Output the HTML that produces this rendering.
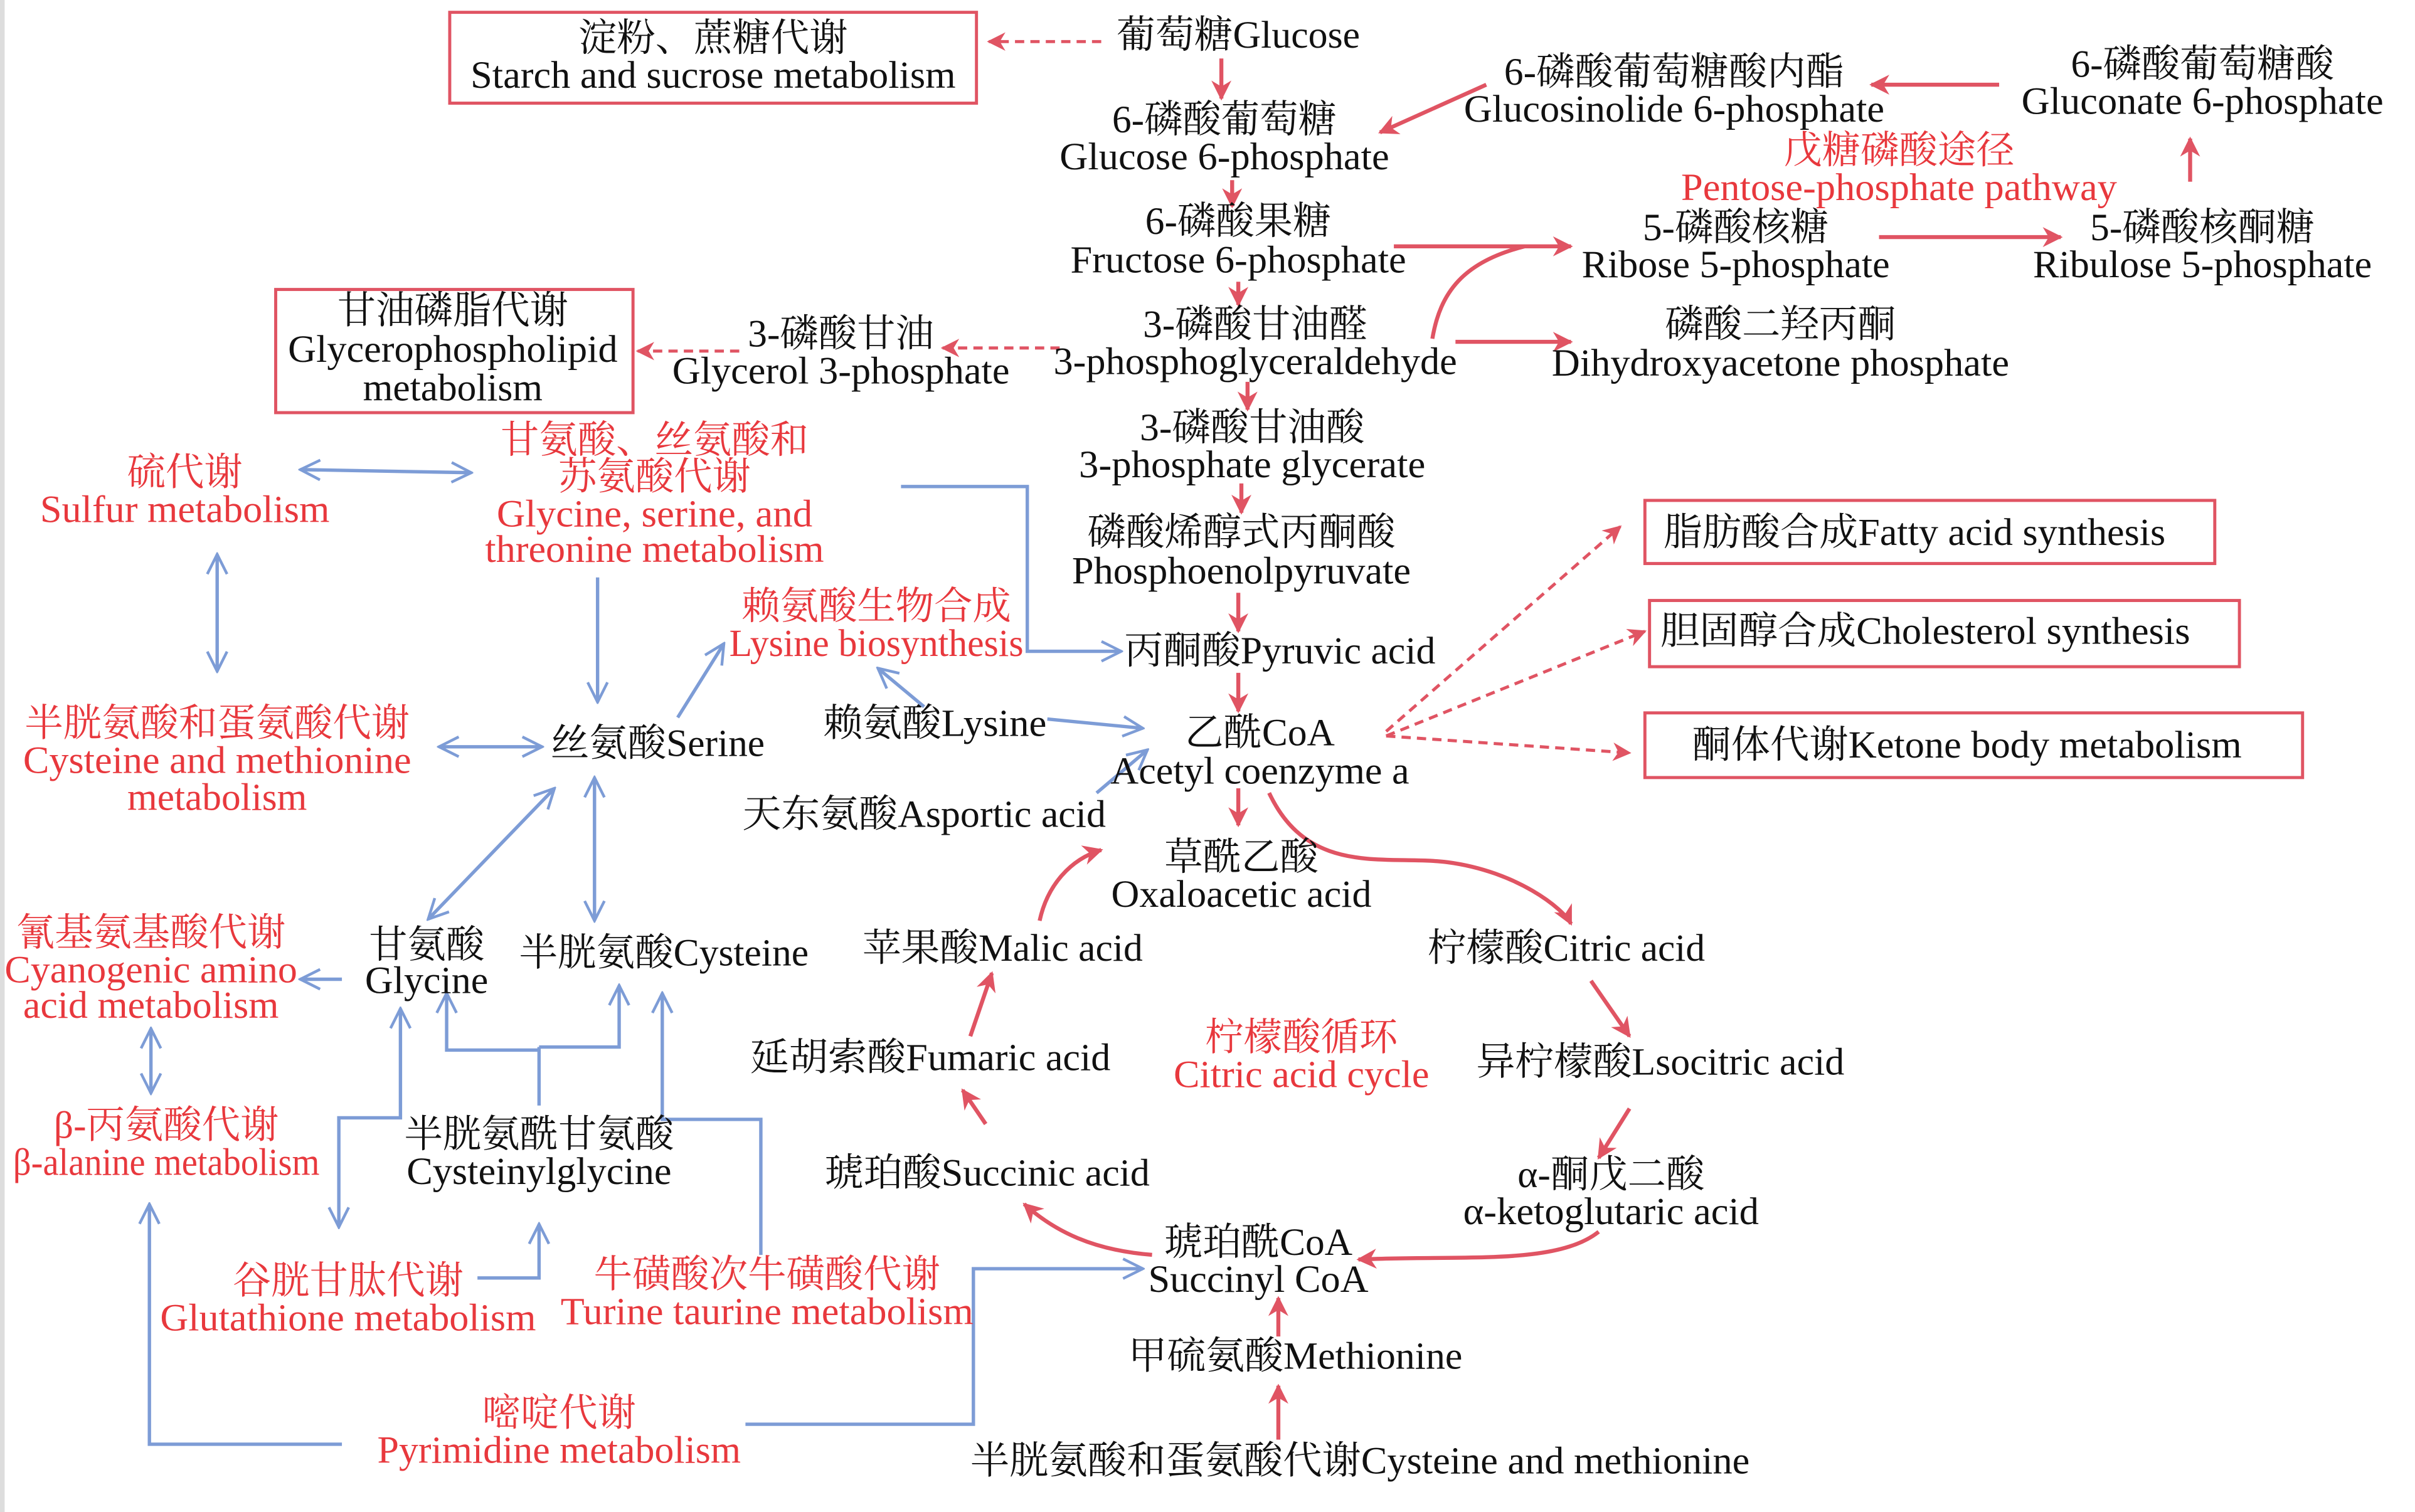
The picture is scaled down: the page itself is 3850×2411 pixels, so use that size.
<!DOCTYPE html>
<html><head><meta charset="utf-8"><style>
html,body{margin:0;padding:0;background:#fff;}
svg{display:block;}
text{font-family:"Liberation Serif","Noto Serif CJK SC","Noto Sans CJK SC",serif;font-size:25px;text-anchor:middle;fill:#111;}
.r{fill:#e8383d;}
.rl{stroke:#e05463;stroke-width:2.6;fill:none;}
.rd{stroke:#e05463;stroke-width:2;fill:none;stroke-dasharray:6 4;}
.bl{stroke:#7d9cd6;stroke-width:2.2;fill:none;}
.box{stroke:#e05463;stroke-width:2;fill:none;}
</style></head><body>
<svg width="3850" height="2411" viewBox="0 0 1568 982" preserveAspectRatio="none" xmlns="http://www.w3.org/2000/svg">
<defs>
<marker id="ra" viewBox="0 0 10 10" refX="9" refY="5" markerWidth="5" markerHeight="5" orient="auto" markerUnits="strokeWidth"><path d="M0,0 L10,5 L0,10 L3,5 Z" fill="#e05463"/></marker>
<marker id="rd" viewBox="0 0 10 10" refX="9" refY="5" markerWidth="6" markerHeight="6" orient="auto" markerUnits="strokeWidth"><path d="M0,0 L10,5 L0,10 L3,5 Z" fill="#e05463"/></marker>
<marker id="ba" viewBox="0 0 12 12" refX="11" refY="6" markerWidth="7" markerHeight="7" orient="auto-start-reverse" markerUnits="strokeWidth"><path d="M1,1 L11,6 L1,11" fill="none" stroke="#7d9cd6" stroke-width="1.4"/></marker>
</defs>
<rect x="0" y="0" width="3" height="982" fill="#ddd"/>

<rect class="box" x="292" y="8" width="342" height="59"/>
<rect class="box" x="179" y="188" width="232" height="80"/>
<rect class="box" x="1068" y="325" width="370" height="41"/>
<rect class="box" x="1071" y="390" width="383" height="43"/>
<rect class="box" x="1068" y="463" width="427" height="42"/>

<g class="rl" marker-end="url(#ra)">
<path d="M793,38 L793,64"/>
<path d="M965,55 L896,86"/>
<path d="M1298,55 L1215,55"/>
<path d="M1422,118 L1422,90"/>
<path d="M800,117 L800,134"/>
<path d="M905,160 L1020,160"/>
<path d="M1220,154 L1338,154"/>
<path d="M804,183 L804,198"/>
<path d="M945,222 L1020,222"/>
<path d="M810,248 L810,266"/>
<path d="M806,314 L806,333"/>
<path d="M804,385 L804,410"/>
<path d="M804,437 L804,462"/>
<path d="M804,512 L804,536"/>
<path d="M824,515 C850,570 900,555 940,560 C985,566 1015,590 1020,600"/>
<path d="M675,598 C680,575 695,558 715,552"/>
<path d="M1033,637 L1058,673"/>
<path d="M1058,720 L1038,752"/>
<path d="M1038,800 C1010,822 950,815 882,818"/>
<path d="M748,815 C710,812 685,800 665,782"/>
<path d="M640,730 L625,708"/>
<path d="M630,673 L644,632"/>
<path d="M830,868 L830,843"/>
<path d="M830,935 L830,900"/>
</g>
<path class="rl" d="M930,220 C935,190 950,170 990,160"/>

<g class="rd" marker-end="url(#rd)">
<path d="M715,27 L642,27"/>
<path d="M688,226 L612,226"/>
<path d="M480,228 L414,228"/>
<path d="M900,475 L1052,342"/>
<path d="M900,478 L1068,410"/>
<path d="M900,478 L1058,489"/>
</g>

<g class="bl">
<path d="M195,305 L306,307" marker-start="url(#ba)" marker-end="url(#ba)"/>
<path d="M141,360 L141,436" marker-start="url(#ba)" marker-end="url(#ba)"/>
<path d="M585,316 L667,316 L667,423 L728,423" marker-end="url(#ba)"/>
<path d="M388,375 L388,456" marker-end="url(#ba)"/>
<path d="M440,466 L470,418" marker-end="url(#ba)"/>
<path d="M680,467 L742,473" marker-end="url(#ba)"/>
<path d="M600,459 L570,434" marker-end="url(#ba)"/>
<path d="M712,515 L745,487" marker-end="url(#ba)"/>
<path d="M285,485 L352,485" marker-start="url(#ba)" marker-end="url(#ba)"/>
<path d="M360,512 L278,597" marker-start="url(#ba)" marker-end="url(#ba)"/>
<path d="M386,505 L386,598" marker-start="url(#ba)" marker-end="url(#ba)"/>
<path d="M222,636 L195,636" marker-end="url(#ba)"/>
<path d="M98,668 L98,710" marker-start="url(#ba)" marker-end="url(#ba)"/>
<path d="M350,718 L350,680"/>
<path d="M350,682 L290,682 L290,645" marker-end="url(#ba)"/>
<path d="M350,680 L402,680 L402,640" marker-end="url(#ba)"/>
<path d="M220,797 L220,726 L260,726 L260,655" marker-start="url(#ba)" marker-end="url(#ba)"/>
<path d="M494,815 L494,727 L430,727 L430,645" marker-end="url(#ba)"/>
<path d="M310,830 L350,830 L350,795" marker-end="url(#ba)"/>
<path d="M222,938 L97,938 L97,782" marker-end="url(#ba)"/>
<path d="M484,925 L632,925 L632,824 L742,824" marker-end="url(#ba)"/>
</g>

<text x="463" y="33">淀粉、蔗糖代谢</text>
<text x="463" y="57" textLength="315" lengthAdjust="spacingAndGlyphs">Starch and sucrose metabolism</text>
<text x="804" y="31" textLength="158" lengthAdjust="spacingAndGlyphs">葡萄糖Glucose</text>
<text x="795" y="86">6-磷酸葡萄糖</text>
<text x="795" y="110" textLength="214" lengthAdjust="spacingAndGlyphs">Glucose 6-phosphate</text>
<text x="1087" y="55">6-磷酸葡萄糖酸内酯</text>
<text x="1087" y="79" textLength="273" lengthAdjust="spacingAndGlyphs">Glucosinolide 6-phosphate</text>
<text x="1430" y="50">6-磷酸葡萄糖酸</text>
<text x="1430" y="74" textLength="235" lengthAdjust="spacingAndGlyphs">Gluconate 6-phosphate</text>
<text x="804" y="152">6-磷酸果糖</text>
<text x="804" y="177" textLength="218" lengthAdjust="spacingAndGlyphs">Fructose 6-phosphate</text>
<text x="1127" y="156">5-磷酸核糖</text>
<text x="1127" y="180" textLength="200" lengthAdjust="spacingAndGlyphs">Ribose 5-phosphate</text>
<text x="1430" y="156">5-磷酸核酮糖</text>
<text x="1430" y="180" textLength="220" lengthAdjust="spacingAndGlyphs">Ribulose 5-phosphate</text>
<text x="815" y="219">3-磷酸甘油醛</text>
<text x="815" y="243" textLength="262" lengthAdjust="spacingAndGlyphs">3-phosphoglyceraldehyde</text>
<text x="1156" y="219">磷酸二羟丙酮</text>
<text x="1156" y="244" textLength="297" lengthAdjust="spacingAndGlyphs">Dihydroxyacetone phosphate</text>
<text x="546" y="225">3-磷酸甘油</text>
<text x="546" y="249" textLength="219" lengthAdjust="spacingAndGlyphs">Glycerol 3-phosphate</text>
<text x="294" y="210">甘油磷脂代谢</text>
<text x="294" y="235" textLength="214" lengthAdjust="spacingAndGlyphs">Glycerophospholipid</text>
<text x="294" y="260">metabolism</text>
<text x="813" y="286">3-磷酸甘油酸</text>
<text x="813" y="310" textLength="225" lengthAdjust="spacingAndGlyphs">3-phosphate glycerate</text>
<text x="806" y="354">磷酸烯醇式丙酮酸</text>
<text x="806" y="379" textLength="220" lengthAdjust="spacingAndGlyphs">Phosphoenolpyruvate</text>
<text x="831" y="431" textLength="202" lengthAdjust="spacingAndGlyphs">丙酮酸Pyruvic acid</text>
<text x="1243" y="354" textLength="326" lengthAdjust="spacingAndGlyphs">脂肪酸合成Fatty acid synthesis</text>
<text x="1250" y="418" textLength="344" lengthAdjust="spacingAndGlyphs">胆固醇合成Cholesterol synthesis</text>
<text x="1277" y="492" textLength="357" lengthAdjust="spacingAndGlyphs">酮体代谢Ketone body metabolism</text>
<text x="818" y="484">乙酰CoA</text>
<text x="818" y="509" textLength="194" lengthAdjust="spacingAndGlyphs">Acetyl coenzyme a</text>
<text x="607" y="478" textLength="145" lengthAdjust="spacingAndGlyphs">赖氨酸Lysine</text>
<text x="600" y="537" textLength="236" lengthAdjust="spacingAndGlyphs">天东氨酸Asportic acid</text>
<text x="427" y="491" textLength="139" lengthAdjust="spacingAndGlyphs">丝氨酸Serine</text>
<text x="806" y="565">草酰乙酸</text>
<text x="806" y="589" textLength="169" lengthAdjust="spacingAndGlyphs">Oxaloacetic acid</text>
<text x="1017" y="624" textLength="180" lengthAdjust="spacingAndGlyphs">柠檬酸Citric acid</text>
<text x="651" y="624" textLength="182" lengthAdjust="spacingAndGlyphs">苹果酸Malic acid</text>
<text x="1078" y="698" textLength="239" lengthAdjust="spacingAndGlyphs">异柠檬酸Lsocitric acid</text>
<text x="1046" y="771">α-酮戊二酸</text>
<text x="1046" y="795" textLength="192" lengthAdjust="spacingAndGlyphs">α-ketoglutaric acid</text>
<text x="817" y="815">琥珀酰CoA</text>
<text x="817" y="839" textLength="143" lengthAdjust="spacingAndGlyphs">Succinyl CoA</text>
<text x="641" y="770" textLength="211" lengthAdjust="spacingAndGlyphs">琥珀酸Succinic acid</text>
<text x="604" y="695" textLength="234" lengthAdjust="spacingAndGlyphs">延胡索酸Fumaric acid</text>
<text x="841" y="889" textLength="217" lengthAdjust="spacingAndGlyphs">甲硫氨酸Methionine</text>
<text x="883" y="957" textLength="506" lengthAdjust="spacingAndGlyphs">半胱氨酸和蛋氨酸代谢Cysteine and methionine</text>
<text x="277" y="622">甘氨酸</text>
<text x="277" y="645" textLength="80" lengthAdjust="spacingAndGlyphs">Glycine</text>
<text x="431" y="627" textLength="188" lengthAdjust="spacingAndGlyphs">半胱氨酸Cysteine</text>
<text x="350" y="745">半胱氨酰甘氨酸</text>
<text x="350" y="769" textLength="172" lengthAdjust="spacingAndGlyphs">Cysteinylglycine</text>

<text class="r" x="1233" y="106">戊糖磷酸途径</text>
<text class="r" x="1233" y="130" textLength="283" lengthAdjust="spacingAndGlyphs">Pentose-phosphate pathway</text>
<text class="r" x="120" y="315">硫代谢</text>
<text class="r" x="120" y="339" textLength="188" lengthAdjust="spacingAndGlyphs">Sulfur metabolism</text>
<text class="r" x="425" y="294">甘氨酸、丝氨酸和</text>
<text class="r" x="425" y="318">苏氨酸代谢</text>
<text class="r" x="425" y="342" textLength="205" lengthAdjust="spacingAndGlyphs">Glycine, serine, and</text>
<text class="r" x="425" y="365" textLength="220" lengthAdjust="spacingAndGlyphs">threonine metabolism</text>
<text class="r" x="569" y="402">赖氨酸生物合成</text>
<text class="r" x="569" y="426" textLength="191" lengthAdjust="spacingAndGlyphs">Lysine biosynthesis</text>
<text class="r" x="141" y="478">半胱氨酸和蛋氨酸代谢</text>
<text class="r" x="141" y="502" textLength="252" lengthAdjust="spacingAndGlyphs">Cysteine and methionine</text>
<text class="r" x="141" y="526">metabolism</text>
<text class="r" x="98" y="614">氰基氨基酸代谢</text>
<text class="r" x="98" y="638" textLength="190" lengthAdjust="spacingAndGlyphs">Cyanogenic amino</text>
<text class="r" x="98" y="661" textLength="166" lengthAdjust="spacingAndGlyphs">acid metabolism</text>
<text class="r" x="108" y="739">β-丙氨酸代谢</text>
<text class="r" x="108" y="763" textLength="199" lengthAdjust="spacingAndGlyphs">β-alanine metabolism</text>
<text class="r" x="845" y="682">柠檬酸循环</text>
<text class="r" x="845" y="706" textLength="166" lengthAdjust="spacingAndGlyphs">Citric acid cycle</text>
<text class="r" x="226" y="840">谷胱甘肽代谢</text>
<text class="r" x="226" y="864" textLength="244" lengthAdjust="spacingAndGlyphs">Glutathione metabolism</text>
<text class="r" x="498" y="836">牛磺酸次牛磺酸代谢</text>
<text class="r" x="498" y="860" textLength="268" lengthAdjust="spacingAndGlyphs">Turine taurine metabolism</text>
<text class="r" x="363" y="926">嘧啶代谢</text>
<text class="r" x="363" y="950" textLength="236" lengthAdjust="spacingAndGlyphs">Pyrimidine metabolism</text>
</svg>
</body></html>
